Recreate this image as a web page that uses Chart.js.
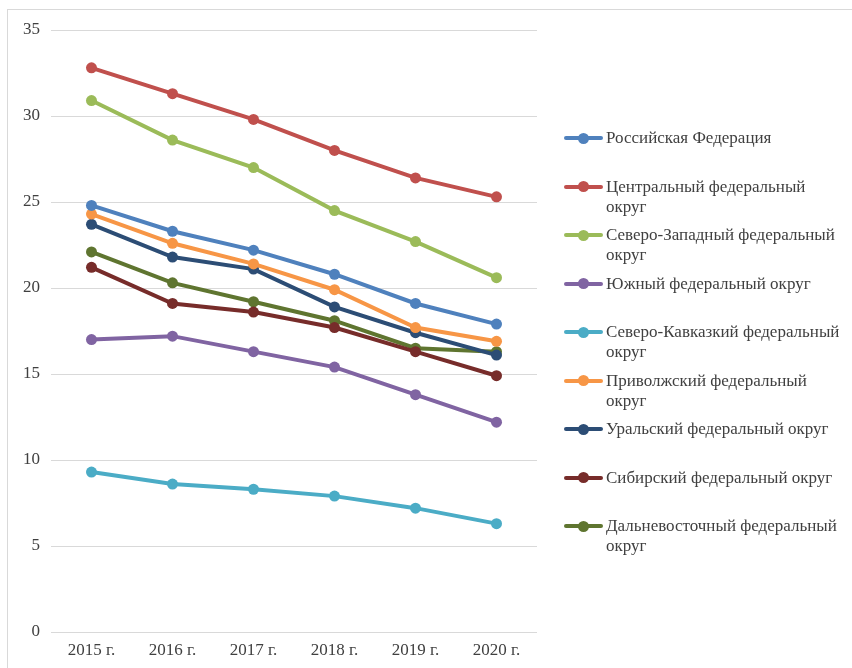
<!DOCTYPE html>
<html lang="ru">
<head>
<meta charset="utf-8">
<script src="https://cdn.jsdelivr.net/npm/chart.js@4/dist/chart.umd.min.js"></script>
<style>
  html, body { margin: 0; padding: 0; background: #fff; overflow: hidden; }
  #wrap { position: relative; width: 852px; height: 668px; }
  #frame { position: absolute; left: 7px; top: 9px; width: 900px; height: 700px;
           border: 1px solid #d9d9d9; box-sizing: border-box; pointer-events: none; }
  canvas { position: absolute; left: 0; top: 0; }
  #legend { position: absolute; left: 564px; top: 128px; margin: 0; padding: 0; list-style: none;
            font-family: "Liberation Serif", "Times New Roman", serif; font-size: 17px;
            color: #404040; line-height: 20px; }
  #legend li { position: relative; height: 48.5px; padding-left: 42px; width: 238px; }
  #legend .mk { position: absolute; left: 0; top: 8px; width: 39px; height: 4px; border-radius: 2px; }
  #legend .mk::after { content: ""; position: absolute; left: 14px; top: -3.5px; width: 11px; height: 11px;
                       border-radius: 50%; background: inherit; }
</style>
</head>
<body>
<div id="wrap">
  <div id="frame"></div>
  <canvas id="chart" width="852" height="668"></canvas>
  <ul id="legend"></ul>
</div>
<script>
// Years along the horizontal axis
const years = ['2015 г.', '2016 г.', '2017 г.', '2018 г.', '2019 г.', '2020 г.'];

// Series names (Russian Federation and federal districts)
const seriesNames = [
  'Российская Федерация',
  'Центральный федеральный округ',
  'Северо-Западный федеральный округ',
  'Южный федеральный округ',
  'Северо-Кавказкий федеральный округ',
  'Приволжский федеральный округ',
  'Уральский федеральный округ',
  'Сибирский федеральный округ',
  'Дальневосточный федеральный округ'
];

// Values per series, 2015–2020
const russia       = [24.8, 23.3, 22.2, 20.8, 19.1, 17.9];
const central      = [32.8, 31.3, 29.8, 28.0, 26.4, 25.3];
const northWest    = [30.9, 28.6, 27.0, 24.5, 22.7, 20.6];
const south        = [17.0, 17.2, 16.3, 15.4, 13.8, 12.2];
const northCaucasus= [9.3, 8.6, 8.3, 7.9, 7.2, 6.3];
const volga        = [24.3, 22.6, 21.4, 19.9, 17.7, 16.9];
const ural         = [23.7, 21.8, 21.1, 18.9, 17.4, 16.1];
const siberia      = [21.2, 19.1, 18.6, 17.7, 16.3, 14.9];
const farEast      = [22.1, 20.3, 19.2, 18.1, 16.5, 16.3];

const seriesValues = [russia, central, northWest, south, northCaucasus, volga, ural, siberia, farEast];

const colors = ['#4F81BD', '#C0504D', '#9BBB59', '#8064A2', '#4BACC6', '#F79646', '#2C4D75', '#772C2A', '#5F7530'];

// Y axis tick values
const yTicks = [0, 5, 10, 15, 20, 25, 30, 35];

const font = { family: '"Liberation Serif", "Times New Roman", serif', size: 17 };

const datasets = seriesNames.map((name, i) => ({
  label: name,
  data: seriesValues[i],
  borderColor: colors[i],
  backgroundColor: colors[i],
  borderWidth: 4,
  pointRadius: 5.5,
  pointHoverRadius: 5.5,
  pointBorderWidth: 0,
  tension: 0
}));

const chart = new Chart(document.getElementById('chart'), {
  type: 'line',
  data: { labels: years, datasets },
  options: {
    responsive: false,
    animation: false,
    events: [],
    layout: { padding: { left: 7, top: 30, right: 315, bottom: 6 } },
    plugins: { legend: { display: false }, tooltip: { enabled: false } },
    scales: {
      x: {
        offset: true,
        grid: { display: false, drawTicks: false },
        border: { display: false },
        ticks: { color: '#404040', font, padding: 8, maxRotation: 0 },
        afterFit: s => { s.height = 30; }
      },
      y: {
        min: 0, max: 35,
        afterBuildTicks: s => { s.ticks = yTicks.map(v => ({ value: v })); },
        grid: { color: '#d9d9d9', lineWidth: 1, drawTicks: false },
        border: { display: false },
        ticks: { color: '#404040', font, padding: 11 },
        afterFit: s => { s.width = 44; }
      }
    }
  }
});

// Legend built from the chart's datasets
const legend = document.getElementById('legend');
chart.data.datasets.forEach(ds => {
  const li = document.createElement('li');
  const mk = document.createElement('span');
  mk.className = 'mk';
  mk.style.background = ds.borderColor;
  li.appendChild(mk);
  li.appendChild(document.createTextNode(ds.label));
  legend.appendChild(li);
});
</script>
</body>
</html>
